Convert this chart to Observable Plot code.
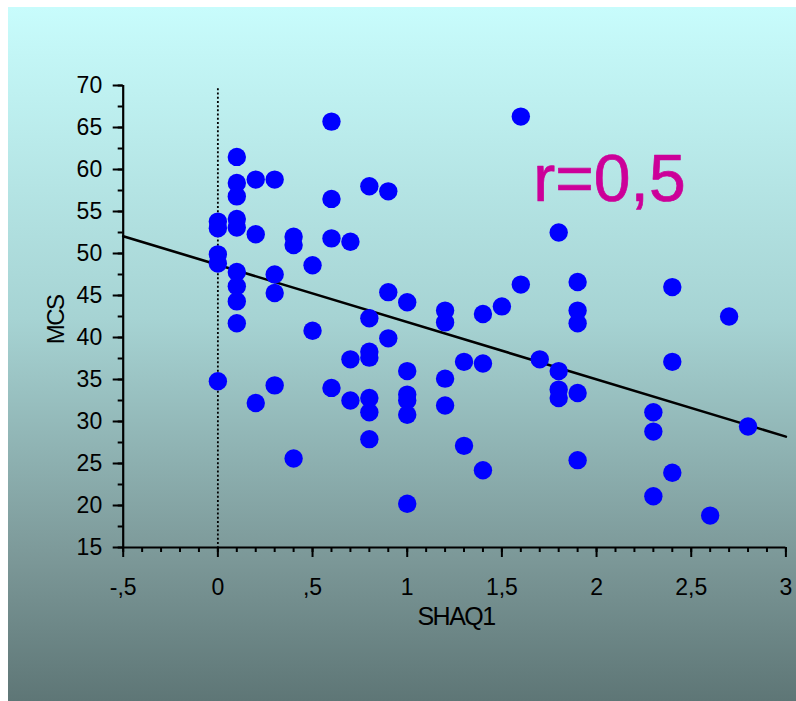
<!DOCTYPE html>
<html><head><meta charset="utf-8">
<script src="https://cdn.jsdelivr.net/npm/d3@7"></script>
<script src="https://cdn.jsdelivr.net/npm/@observablehq/plot@0.6"></script>
<style>
html,body{margin:0;padding:0;background:#fff;width:796px;height:701px;overflow:hidden;}
#bg{position:absolute;left:8px;top:7px;width:788px;height:694px;
 background:linear-gradient(to bottom,#c8fcfc 0%,#a6d3d3 45%,#7b9797 80%,#5e7676 100%);}
#chart{position:absolute;left:0;top:0;}
</style></head><body><div id="bg"></div><div id="chart"></div>
<script>
// SHAQ1 (x) and MCS (y)
const shaq1 = [
  0,0,0,0,0,
  0.1,0.1,0.1,0.1,0.1,0.1,0.1,0.1,0.1,
  0.2,0.2,0.2,
  0.3,0.3,0.3,0.3,
  0.4,0.4,0.4,
  0.5,0.5,
  0.6,0.6,0.6,0.6,
  0.7,0.7,0.7,
  0.8,0.8,0.8,0.8,0.8,0.8,0.8,
  0.9,0.9,0.9,
  1.0,1.0,1.0,1.0,1.0,1.0,
  1.2,1.2,1.2,1.2,
  1.3,1.3,
  1.4,1.4,1.4,
  1.5,
  1.6,1.6,
  1.7,
  1.8,1.8,1.8,1.8,
  1.9,1.9,1.9,1.9,1.9,
  2.3,2.3,2.3,
  2.4,2.4,2.4,
  2.6,
  2.7,
  2.8
];
const mcs = [
  53.8,53.0,49.9,48.8,34.8,
  61.5,58.4,56.8,54.1,53.1,47.8,46.1,44.3,41.7,
  58.8,52.3,32.2,
  58.8,47.5,45.3,34.3,
  52.0,51.0,25.6,
  48.6,40.8,
  65.7,56.5,51.8,34.0,
  51.4,37.4,32.5,
  58.0,42.3,38.3,37.6,32.8,31.1,27.9,
  57.4,45.4,39.9,
  44.2,36.0,33.2,32.5,30.8,20.2,
  43.2,41.8,35.1,31.9,
  37.1,27.1,
  42.8,36.9,24.2,
  43.7,
  66.3,46.3,
  37.4,
  52.5,36.0,33.8,32.8,
  46.6,43.2,41.7,33.4,25.4,
  31.1,28.8,21.1,
  46.0,37.1,23.9,
  18.8,
  42.5,
  29.4
];
// fitted regression line (end points)
const fitX = [-0.5, 3];
const fitY = [52.06, 28.2];
// tick values
const xMajor = [-0.5, 0, 0.5, 1, 1.5, 2, 2.5, 3];
const xMinor = d3.range(-5, 31).map(i => i / 10);
const yMajor = d3.range(15, 71, 5);
const yMinor = d3.range(15, 70.1, 2.5);
const refX = [0];
const annotation = ["r=0,5"];

const points = shaq1.map((x, i) => ({x, y: mcs[i]}));
const fit = fitX.map((x, i) => ({x, y: fitY[i]}));
const fmt = d => d === 0 ? "0" : String(d).replace("0.", ".").replace(".", ",");
const font = "'Liberation Sans', Arial, Helvetica, sans-serif";

const chart = Plot.plot({
  width: 796,
  height: 701,
  marginLeft: 122.7,
  marginRight: 10.6,
  marginTop: 85,
  marginBottom: 154,
  style: {background: "transparent", overflow: "visible", fontFamily: font, color: "#000"},
  x: {domain: [-0.5, 3]},
  y: {domain: [15, 70]},
  marks: [
    Plot.ruleX(refX, {x: d => d, y1: 69.6, y2: 15, stroke: "#000", strokeWidth: 1.8, strokeDasharray: "2,2.2"}),
    Plot.line(fit, {x: "x", y: "y", stroke: "#000", strokeWidth: 2.6}),
    Plot.dot(points, {x: "x", y: "y", r: 9.2, fill: "#0000ff", stroke: "none"}),
    Plot.axisX({ticks: xMinor, tickSize: 5, tickFormat: () => "", stroke: "#000", strokeWidth: 2, label: null}),
    Plot.axisX({ticks: xMajor, tickSize: 10, tickPadding: 21, tickFormat: fmt, fontSize: 23, fill: "#000", stroke: "#000", strokeWidth: 2, label: null}),
    Plot.axisY({ticks: yMinor, tickSize: 5, tickFormat: () => "", stroke: "#000", strokeWidth: 2, label: null}),
    Plot.axisY({ticks: yMajor, tickSize: 10, tickPadding: 11, tickFormat: d => String(d), fontSize: 23, fill: "#000", stroke: "#000", strokeWidth: 2, label: null}),
    Plot.ruleY([15], {stroke: "#000", strokeWidth: 2.2}),
    Plot.ruleX([-0.5], {stroke: "#000", strokeWidth: 2.2}),
    Plot.text(["SHAQ1"], {frameAnchor: "bottom", text: d => d, lineAnchor: "top", dy: 60, dx: 1.5, fontSize: 25, fill: "#000"}),
    Plot.text(["MCS"], {x: () => -0.852, y: () => 42.1, text: d => d, rotate: -90, lineAnchor: "middle", fontSize: 24, fill: "#000"}),
    Plot.text(annotation, {x: () => 1.666, y: () => 58.82, text: d => d, textAnchor: "start", lineAnchor: "middle", fontSize: 66, fill: "#cc0099", stroke: "#cc0099", strokeWidth: 0.7})
  ]
});
document.getElementById("chart").appendChild(chart);
// tighten letter spacing of axis titles
d3.select(chart).selectAll("text").filter(function(){ return this.textContent === "SHAQ1" || this.textContent === "MCS"; })
  .style("letter-spacing", "-1.5px");
</script>
</body></html>
